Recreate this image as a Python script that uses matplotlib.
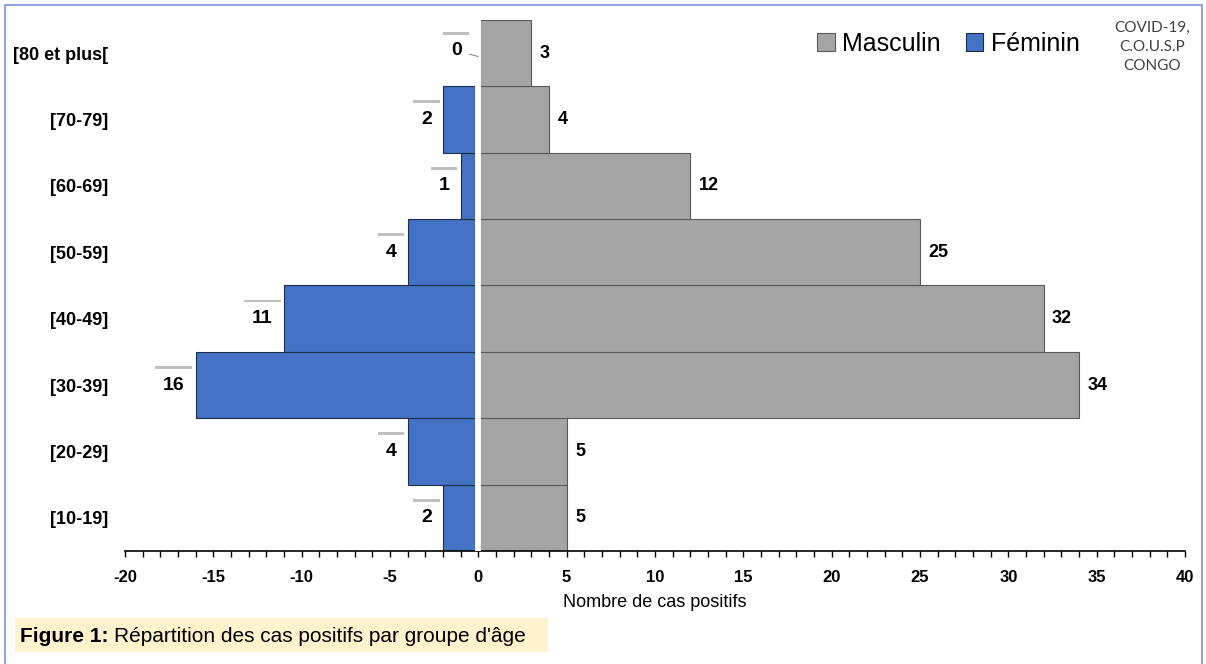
import matplotlib.pyplot as plt
import matplotlib.patheffects as pe
from matplotlib.patches import Rectangle
from matplotlib.text import Annotation
from matplotlib.ticker import MultipleLocator

# Data
age_groups = ['[10-19]', '[20-29]', '[30-39]', '[40-49]', '[50-59]', '[60-69]', '[70-79]', '[80 et plus[']
masculin = [5, 5, 34, 32, 25, 12, 4, 3]
feminin = [2, 4, 16, 11, 4, 1, 2, 0]

plt.rcParams['font.family'] = ['Liberation Sans', 'DejaVu Sans']
plt.rcParams['axes.unicode_minus'] = False

grey = '#A5A5A5'
blue = '#4472C4'

fig = plt.figure(figsize=(12.06, 6.64), dpi=100)
ax = fig.add_axes([0.1036, 0.1702, 0.8790, 0.7997])

y = list(range(len(age_groups)))
ax.barh(y, masculin, height=1.0, color=grey, edgecolor='#595959', linewidth=0.8, label='Masculin')
ax.barh(y, [-v for v in feminin], height=1.0, color=blue, edgecolor='#1F2D4D', linewidth=0.8, label='Féminin')
ax.axvline(0, color='white', linewidth=4.2, zorder=3)

# value labels
for yi, v in zip(y, masculin):
    ax.annotate(str(v), (v, yi), xytext=(6, 0), textcoords='offset points',
                ha='left', va='center', fontsize=13, fontweight='bold')
for yi, v in zip(y, feminin):
    if v > 0:
        xy, off = (-v, yi), (-8, 0)
    else:
        xy, off = (-v, yi - 0.05), (-12, 4)
    t = ax.annotate(str(v), xy, xytext=off, textcoords='offset points',
                    ha='right', va='center', fontsize=14, fontweight='bold',
                    bbox=dict(boxstyle='square,pad=0.4', facecolor='white', edgecolor='none'),
                    arrowprops=dict(arrowstyle='-', color='#7F7F7F', lw=0.7,
                                    shrinkA=0, shrinkB=0) if v == 0 else None)
    t.get_bbox_patch().set_path_effects([
        pe.SimplePatchShadow(offset=(0, 2), shadow_rgbFace='#BFBFBF', alpha=1.0),
        pe.Normal()])

ax.set_xlim(-20, 40)
ax.set_ylim(-0.5, len(age_groups) - 0.5)
ax.set_yticks(y)
ax.set_yticklabels(age_groups, fontsize=13, fontweight='bold')
ax.tick_params(axis='y', length=0, pad=12)
ax.xaxis.set_major_locator(MultipleLocator(5))
ax.xaxis.set_minor_locator(MultipleLocator(1))
ax.tick_params(axis='x', which='both', direction='out', length=4, width=1, labelsize=12, pad=10)
for lbl in ax.get_xticklabels():
    lbl.set_fontweight('bold')
for s in ['top', 'right', 'left']:
    ax.spines[s].set_visible(False)
ax.spines['bottom'].set_linewidth(1.2)
ax.set_xlabel('Nombre de cas positifs', fontsize=13, labelpad=6)

ax.legend(loc='upper right', bbox_to_anchor=(0.922, 1.02), ncol=2, frameon=False,
          fontsize=18, handlelength=0.7, handleheight=0.7, handletextpad=0.3,
          columnspacing=1.0)

fig.text(0.955, 0.968, 'COVID-19,\nC.O.U.S.P\nCONGO', ha='center', va='top',
         fontsize=11, color='#404040', family=['Lato', 'DejaVu Sans'],
         linespacing=1.45)

# caption
fig.patches.append(Rectangle((15 / 1206, 1 - 652 / 664), 533 / 1206, 34 / 664,
                             transform=fig.transFigure, facecolor='#FFF2CC', edgecolor='none'))
cap = fig.text(20 / 1206, 1 - 636 / 664, 'Figure 1:', fontsize=15, fontweight='bold',
               va='center', ha='left')
fig.add_artist(Annotation('Répartition des cas positifs par groupe d\'âge', xy=(1, 0.5),
                          xycoords=cap, xytext=(4, 0), textcoords='offset points',
                          fontsize=15, va='center', ha='left'))

# outer frame
fig.patches.append(Rectangle((5 / 1206, -0.01), 1197 / 1206, 1 - 5 / 664 + 0.01,
                             transform=fig.transFigure, facecolor='none',
                             edgecolor='#7A95D6', linewidth=1.2))

fig.savefig('out.png', dpi=100)
